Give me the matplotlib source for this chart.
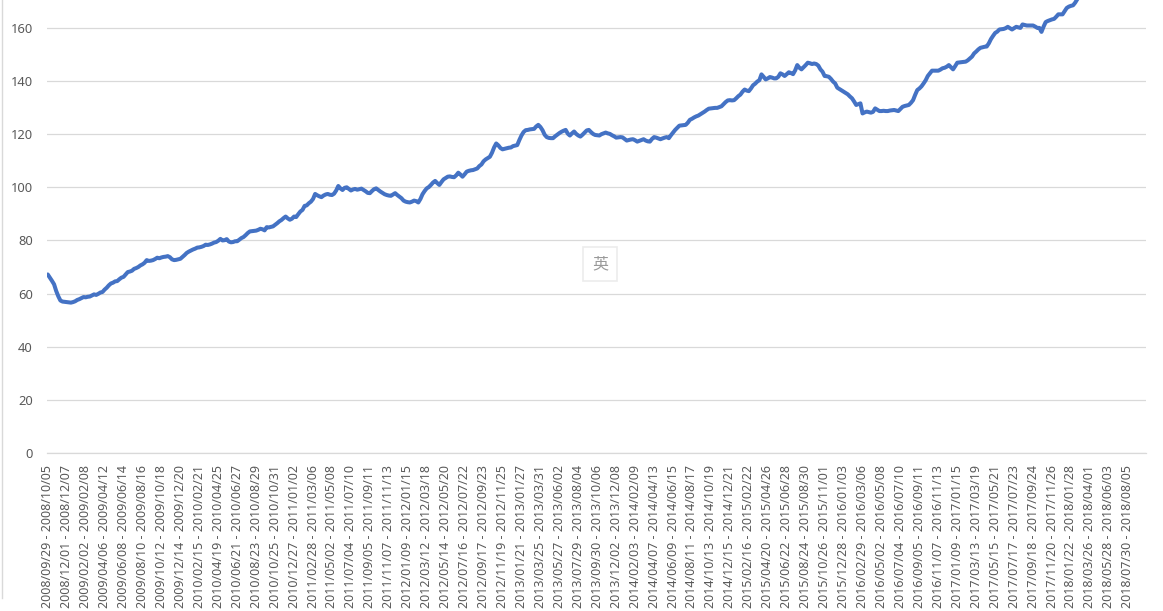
import matplotlib
matplotlib.use("Agg")
import matplotlib.pyplot as plt
from matplotlib.lines import Line2D
from matplotlib.patches import Rectangle
import pandas as pd

# ---- categories: weekly periods ----
n_weeks = 522
week_starts = pd.date_range("2008-09-29", periods=n_weeks, freq="7D")
categories = [f"{d:%Y/%m/%d} - {(d + pd.Timedelta(days=6)):%Y/%m/%d}" for d in week_starts]
label_step = 9

# ---- series values (weekly) ----
values = [
    67.2, 66.0, 64.8, 63.5, 61.0, 59.0, 57.4, 57.0, 56.9,
    56.8, 56.7, 56.6, 56.8, 57.1, 57.6, 57.9, 58.3, 58.7,
    58.6, 58.8, 58.9, 59.3, 59.7, 59.5, 59.9, 60.4, 60.6,
    61.5, 62.2, 63.1, 63.8, 64.1, 64.6, 64.7, 65.4, 66.0,
    66.3, 67.2, 68.1, 68.3, 68.6, 69.3, 69.6, 70.0, 70.6,
    71.0, 71.6, 72.6, 72.3, 72.4, 72.6, 73.0, 73.5, 73.3,
    73.6, 73.8, 73.9, 74.1, 73.7, 72.9, 72.6, 72.7, 72.9,
    73.1, 73.8, 74.5, 75.3, 75.8, 76.2, 76.6, 76.9, 77.3,
    77.4, 77.6, 77.9, 78.4, 78.3, 78.5, 78.8, 79.2, 79.4,
    79.9, 80.6, 80.0, 80.1, 80.5, 79.6, 79.3, 79.4, 79.7,
    79.7, 80.3, 80.9, 81.3, 82.0, 82.8, 83.4, 83.5, 83.6,
    83.7, 84.0, 84.4, 84.2, 83.8, 85.0, 84.9, 85.1, 85.3,
    85.9, 86.5, 87.2, 87.7, 88.4, 89.0, 88.3, 87.8, 88.2,
    89.0, 88.8, 89.9, 90.9, 91.5, 93.0, 93.2, 94.0, 94.6,
    95.6, 97.5, 97.0, 96.6, 96.3, 96.9, 97.3, 97.5, 97.2,
    97.1, 97.6, 98.8, 100.5, 99.6, 99.0, 99.8, 100.0, 99.4,
    98.8, 99.2, 99.4, 99.1, 99.3, 99.5, 99.0, 98.5, 97.9,
    97.8, 98.6, 99.3, 99.6, 99.0, 98.4, 97.9, 97.4, 97.1,
    96.9, 96.8, 97.3, 97.8, 97.1, 96.5, 95.9, 95.0, 94.6,
    94.4, 94.3, 94.6, 95.0, 94.8, 94.3, 95.6, 97.4, 98.6,
    99.6, 100.1, 100.9, 101.8, 102.4, 101.6, 100.9, 102.0, 103.0,
    103.5, 104.0, 104.1, 103.9, 103.8, 104.5, 105.5, 104.8, 104.0,
    104.9, 105.9, 106.2, 106.4, 106.5, 106.8, 107.1, 108.0, 108.6,
    109.8, 110.5, 111.0, 111.5, 113.0, 115.0, 116.5, 115.8, 114.8,
    114.3, 114.5, 114.7, 114.9, 115.0, 115.5, 115.7, 115.9, 117.8,
    119.5, 120.8, 121.5, 121.6, 121.8, 121.9, 122.0, 122.9, 123.5,
    122.7, 121.5, 119.8, 118.9, 118.6, 118.5, 118.5, 119.2, 119.8,
    120.4, 120.9, 121.3, 121.6, 120.2, 119.5, 120.3, 121.0, 120.1,
    119.5, 119.1, 119.8, 120.6, 121.4, 121.6, 120.8, 120.1, 119.7,
    119.6, 119.5, 120.0, 120.3, 120.6, 120.3, 120.1, 119.6, 119.2,
    118.7, 118.8, 118.9, 118.8, 118.2, 117.6, 117.8, 118.0, 118.1,
    117.7, 117.2, 117.5, 117.8, 118.1, 117.6, 117.3, 117.2, 118.2,
    118.9, 118.7, 118.4, 118.1, 118.4, 118.7, 118.9, 118.5, 119.6,
    120.6, 121.6, 122.4, 123.2, 123.3, 123.4, 123.5, 124.3, 125.4,
    125.8, 126.3, 126.7, 127.0, 127.5, 128.0, 128.5, 129.1, 129.6,
    129.7, 129.8, 129.9, 129.9, 130.2, 130.5, 131.3, 132.1, 132.7,
    132.8, 132.7, 132.8, 133.5, 134.3, 134.9, 136.0, 136.8, 136.4,
    136.2, 137.2, 138.4, 139.0, 139.8, 140.3, 142.5, 141.6, 140.6,
    141.0, 141.5, 141.3, 141.0, 141.0, 141.6, 142.9, 142.5, 141.9,
    142.6, 143.3, 143.0, 142.6, 144.0, 146.0, 145.0, 144.4, 145.2,
    146.0, 146.9, 146.7, 146.4, 146.6, 146.4, 145.8, 144.4, 143.5,
    141.9, 141.8, 141.6, 140.8, 139.8, 139.1, 137.5, 137.0, 136.5,
    136.0, 135.5, 135.0, 134.2, 133.5, 132.3, 131.0, 131.3, 131.6,
    127.8, 128.2, 128.5, 128.3, 128.1, 128.4, 129.7, 129.2, 128.7,
    128.7, 128.8, 128.7, 128.7, 128.9, 129.0, 129.1, 128.9, 128.7,
    129.5, 130.3, 130.6, 130.8, 131.0, 131.8, 132.8, 134.8, 136.6,
    137.2, 138.0, 139.1, 140.3, 141.9, 142.9, 143.9, 143.9, 143.9,
    143.9, 144.3, 144.8, 145.0, 145.4, 146.0, 145.2, 144.4, 145.6,
    146.9, 147.0, 147.1, 147.2, 147.3, 147.8, 148.5, 149.2, 150.4,
    151.1, 151.9, 152.5, 152.7, 152.9, 153.0, 154.2, 155.8, 157.0,
    158.1, 158.6, 159.4, 159.5, 159.6, 159.9, 160.4, 159.9, 159.4,
    159.9, 160.4, 160.2, 160.0, 161.3, 161.1, 160.9, 160.9, 160.9,
    160.9, 160.5, 160.0, 160.0, 158.5, 160.5, 162.2, 162.6, 162.9,
    163.2, 163.4, 164.2, 165.1, 165.1, 165.1, 166.3, 167.5, 168.0,
    168.3, 168.5, 169.5, 170.8, 172.0, 173.0, 174.0,
]
y_ticks = [0, 20, 40, 60, 80, 100, 120, 140, 160]

W, H = 1163, 611
fig = plt.figure(figsize=(W / 100, H / 100), dpi=100)
fig.patch.set_facecolor("white")

left, right = 46.7 / W, 1145.7 / W
bottom = (H - 453) / H
ax = fig.add_axes([left, bottom, right - left, 1.0 - bottom])

ax.plot(range(len(values)), values, color="#4472C4", linewidth=2.9,
        solid_joinstyle="round", solid_capstyle="round", zorder=3)

ax.set_xlim(-0.5, n_weeks - 0.5)
ax.set_ylim(0, 170.5)
ax.set_yticks(y_ticks)
ax.set_yticklabels([str(v) for v in y_ticks])
ax.grid(axis="y", color="#d9d9d9", linewidth=0.9)
ax.set_axisbelow(True)

tick_pos = list(range(0, n_weeks, label_step))
ax.set_xticks(tick_pos)
ax.set_xticklabels([categories[i] for i in tick_pos], rotation=90,
                   ha="center", va="top")

for s in ("top", "right", "left"):
    ax.spines[s].set_visible(False)
ax.spines["bottom"].set_color("#d9d9d9")
ax.spines["bottom"].set_linewidth(0.9)

ax.tick_params(axis="y", length=0, pad=10, labelsize=9.3, labelcolor="#595959")
ax.tick_params(axis="x", length=0, pad=9, labelsize=9, labelcolor="#595959")
for lbl in ax.get_xticklabels() + ax.get_yticklabels():
    lbl.set_fontfamily("Noto Sans")

# chart-area border on the left
fig.add_artist(Line2D([1.7 / W, 1.7 / W], [(H - 598) / H, 1.0],
                      transform=fig.transFigure, color="#d9d9d9", linewidth=1))

# IME indicator box
bx0, bx1, by0, by1 = 583.3, 616.7, 247.3, 280.7
fig.add_artist(Rectangle((bx0 / W, (H - by1) / H), (bx1 - bx0) / W, (by1 - by0) / H,
                         transform=fig.transFigure, facecolor="white",
                         edgecolor="#ececec", linewidth=1.2, zorder=5))
fig.text((bx0 + bx1) / 2 / W, (H - (by0 + by1) / 2) / H, "英",
         family=["Noto Sans CJK SC", "DejaVu Sans"], fontsize=11.5, color="#9a9a9a",
         ha="center", va="center", zorder=6)

fig.savefig("out.png", dpi=100, facecolor="white")
